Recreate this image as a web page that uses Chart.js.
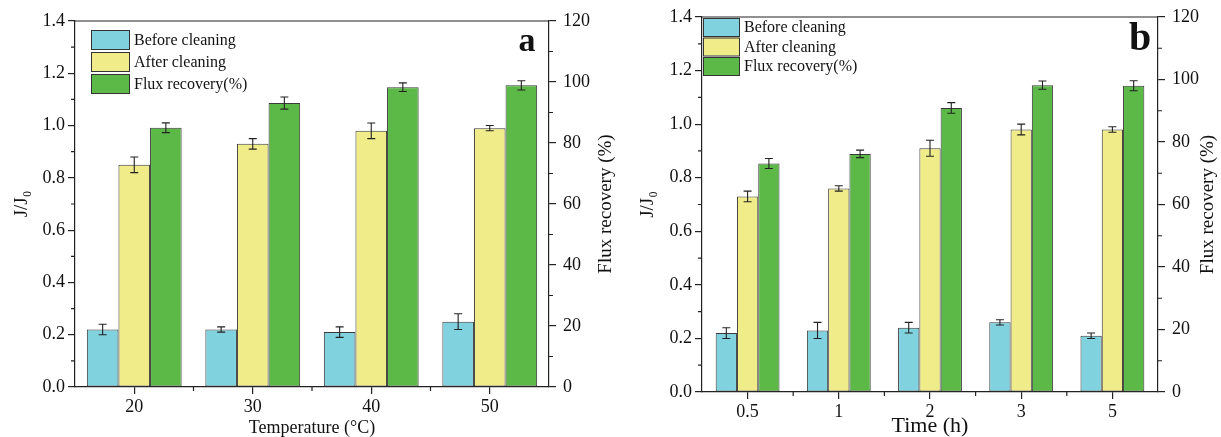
<!DOCTYPE html>
<html lang="en">
<head>
<meta charset="UTF-8">
<title>Flux recovery after cleaning</title>
<script src="https://cdn.jsdelivr.net/npm/chart.js"></script>
<style>
  body { margin: 0; background: #fff; width: 1221px; height: 437px; position: relative; overflow: hidden; }
  canvas { position: absolute; top: 0; }
</style>
</head>
<body>
<canvas id="chartA" width="620" height="437" style="left:0"></canvas>
<canvas id="chartB" width="601" height="437" style="left:620px"></canvas>
<script>
// panel a: cleaning temperature
const tempLabels = ['20', '30', '40', '50'];
const beforeA = [0.22, 0.22, 0.21, 0.25];
const beforeErrA = [0.02, 0.01, 0.02, 0.03];
const afterA = [0.85, 0.93, 0.98, 0.99];
const afterErrA = [0.03, 0.02, 0.03, 0.01];
const recoveryA = [85.0, 93.1, 98.3, 98.9];
const recoveryErrA = [1.6, 2.0, 1.4, 1.5];

// panel b: cleaning time
const timeLabels = ['0.5', '1', '2', '3', '5'];
const beforeB = [0.22, 0.23, 0.24, 0.26, 0.21];
const beforeErrB = [0.02, 0.03, 0.02, 0.01, 0.01];
const afterB = [0.73, 0.76, 0.91, 0.98, 0.98];
const afterErrB = [0.02, 0.01, 0.03, 0.02, 0.01];
const recoveryB = [73.1, 76.2, 90.9, 98.2, 98.0];
const recoveryErrB = [1.6, 1.2, 1.7, 1.3, 1.6];

const seriesNames = ['Before cleaning', 'After cleaning', 'Flux recovery(%)'];
const colors = ['#80d2df', '#f1ec8a', '#5cb947'];
const ink = '#222';

Chart.defaults.font.family = '"Liberation Serif", "Times New Roman", serif';
Chart.defaults.color = '#111';

// error bars, frame, minor ticks, legend, right title, panel letter
const extras = {
  id: 'extras',
  afterDatasetsDraw(chart) {
    const ctx = chart.ctx;
    ctx.save();
    ctx.strokeStyle = ink;
    ctx.lineWidth = 1.1;
    chart.data.datasets.forEach((ds, i) => {
      const scale = chart.scales[ds.yAxisID];
      chart.getDatasetMeta(i).data.forEach((bar, j) => {
        const hi = scale.getPixelForValue(ds.data[j] + ds.errors[j]);
        const lo = scale.getPixelForValue(ds.data[j] - ds.errors[j]);
        ctx.beginPath();
        ctx.moveTo(bar.x, hi); ctx.lineTo(bar.x, lo);
        ctx.moveTo(bar.x - 4, hi); ctx.lineTo(bar.x + 4, hi);
        ctx.moveTo(bar.x - 4, lo); ctx.lineTo(bar.x + 4, lo);
        ctx.stroke();
      });
    });
    ctx.restore();
  },
  afterDraw(chart, args, o) {
    const ctx = chart.ctx;
    const a = chart.chartArea;
    const y = chart.scales.y, y1 = chart.scales.y1, x = chart.scales.x;
    ctx.save();
    ctx.strokeStyle = ink;
    ctx.lineWidth = 1.2;
    ctx.beginPath();
    ctx.moveTo(a.left, a.top); ctx.lineTo(a.right, a.top);
    // minor ticks
    for (let v = 0.1; v < 1.4; v += 0.2) {
      const p = y.getPixelForValue(v);
      ctx.moveTo(a.left, p); ctx.lineTo(a.left - 4, p);
    }
    for (let v = 10; v < 120; v += 20) {
      const p = y1.getPixelForValue(v);
      ctx.moveTo(a.right, p); ctx.lineTo(a.right + 4, p);
    }
    for (let i = 1; i < chart.data.labels.length; i++) {
      const p = (x.getPixelForTick(i - 1) + x.getPixelForTick(i)) / 2;
      ctx.moveTo(p, a.bottom); ctx.lineTo(p, a.bottom + 4);
    }
    ctx.stroke();

    // legend inside plot
    const L = o.legend;
    ctx.font = L.font + 'px ' + Chart.defaults.font.family;
    ctx.textBaseline = 'middle';
    ctx.lineWidth = 1;
    chart.data.datasets.forEach((ds, i) => {
      const ty = L.y + i * L.gap;
      ctx.fillStyle = ds.backgroundColor;
      ctx.fillRect(L.x, ty, L.w, L.h);
      ctx.strokeStyle = '#333';
      ctx.strokeRect(L.x + 0.5, ty + 0.5, L.w, L.h);
      ctx.fillStyle = '#111';
      ctx.fillText(ds.label, L.x + L.w + 5, ty + L.h / 2 + 1);
    });

    // right axis title, reading upward
    ctx.save();
    ctx.translate(o.rightTitleX, (a.top + a.bottom) / 2);
    ctx.rotate(-Math.PI / 2);
    ctx.textAlign = 'center';
    ctx.font = '19px ' + Chart.defaults.font.family;
    ctx.fillText('Flux recovery (%)', 0, 0);
    ctx.restore();

    // panel letter
    ctx.font = 'bold ' + o.letterSize + 'px ' + Chart.defaults.font.family;
    ctx.textAlign = 'center';
    ctx.fillText(o.letter, o.letterX, o.letterY);
    ctx.restore();
  }
};

function makePanel(id, p) {
  const sets = [
    [p.before, p.beforeErr, 'y'],
    [p.after, p.afterErr, 'y'],
    [p.recovery, p.recoveryErr, 'y1']
  ];
  return new Chart(document.getElementById(id), {
    type: 'bar',
    data: {
      labels: p.labels,
      datasets: sets.map((s, i) => ({
        label: seriesNames[i],
        data: s[0],
        errors: s[1],
        yAxisID: s[2],
        backgroundColor: colors[i],
        borderColor: '#3a3a3a',
        borderWidth: 1,
        borderSkipped: false,
        categoryPercentage: p.catPct,
        barPercentage: 1.0
      }))
    },
    options: {
      responsive: false,
      animation: false,
      layout: { padding: { top: p.top, left: 0, right: 0, bottom: 0 } },
      plugins: {
        legend: { display: false },
        tooltip: { enabled: false },
        extras: p.extras
      },
      scales: {
        x: {
          grid: { drawOnChartArea: false, offset: false, tickLength: 7, color: ink, lineWidth: 1.2 },
          border: { color: ink, width: 1.2 },
          ticks: { font: { size: 18 }, padding: 2, maxRotation: 0 },
          title: { display: true, text: p.xTitle, font: { size: p.xTitleSize, lineHeight: 1 }, padding: { top: 0, bottom: p.xTitlePad } },
          afterFit(s) { s.height = p.xHeight; s.paddingLeft = 0; s.paddingRight = 0; }
        },
        y: {
          position: 'left',
          min: 0, max: 1.4,
          grid: { drawOnChartArea: false, tickLength: 7, color: ink, lineWidth: 1.2 },
          border: { color: ink, width: 1.2 },
          ticks: { stepSize: 0.2, font: { size: 18 }, padding: 3, callback: v => v.toFixed(1) },
          title: { display: true, text: 'J/J₀', font: { size: 19 }, padding: { top: p.yTitlePad, bottom: 0 } },
          afterFit(s) { s.width = p.leftW; s.paddingTop = 0; s.paddingBottom = 0; }
        },
        y1: {
          position: 'right',
          min: 0, max: 120,
          grid: { drawOnChartArea: false, tickLength: 7, color: ink, lineWidth: 1.2 },
          border: { color: ink, width: 1.2 },
          ticks: { stepSize: 20, font: { size: 18 }, padding: 7 },
          afterFit(s) { s.width = p.rightW; s.paddingTop = 0; s.paddingBottom = 0; }
        }
      }
    },
    plugins: [extras]
  });
}

makePanel('chartA', {
  labels: tempLabels,
  before: beforeA, beforeErr: beforeErrA,
  after: afterA, afterErr: afterErrA,
  recovery: recoveryA, recoveryErr: recoveryErrA,
  catPct: 0.8,
  top: 21, leftW: 75, rightW: 71, xHeight: 50,
  xTitle: 'Temperature (°C)', xTitleSize: 18, xTitlePad: 0,
  yTitlePad: 11,
  extras: {
    legend: { x: 91, y: 30, w: 38, h: 19, gap: 22, font: 16 },
    rightTitleX: 606,
    letter: 'a', letterSize: 34, letterX: 527, letterY: 42
  }
});

makePanel('chartB', {
  labels: timeLabels,
  before: beforeB, beforeErr: beforeErrB,
  after: afterB, afterErr: afterErrB,
  recovery: recoveryB, recoveryErr: recoveryErrB,
  catPct: 0.7,
  top: 17, leftW: 82, rightW: 63, xHeight: 45,
  xTitle: 'Time (h)', xTitleSize: 22, xTitlePad: 0,
  yTitlePad: 17,
  extras: {
    legend: { x: 83, y: 18, w: 36, h: 18, gap: 19.5, font: 16 },
    rightTitleX: 588,
    letter: 'b', letterSize: 40, letterX: 520, letterY: 40
  }
});
</script>
</body>
</html>
